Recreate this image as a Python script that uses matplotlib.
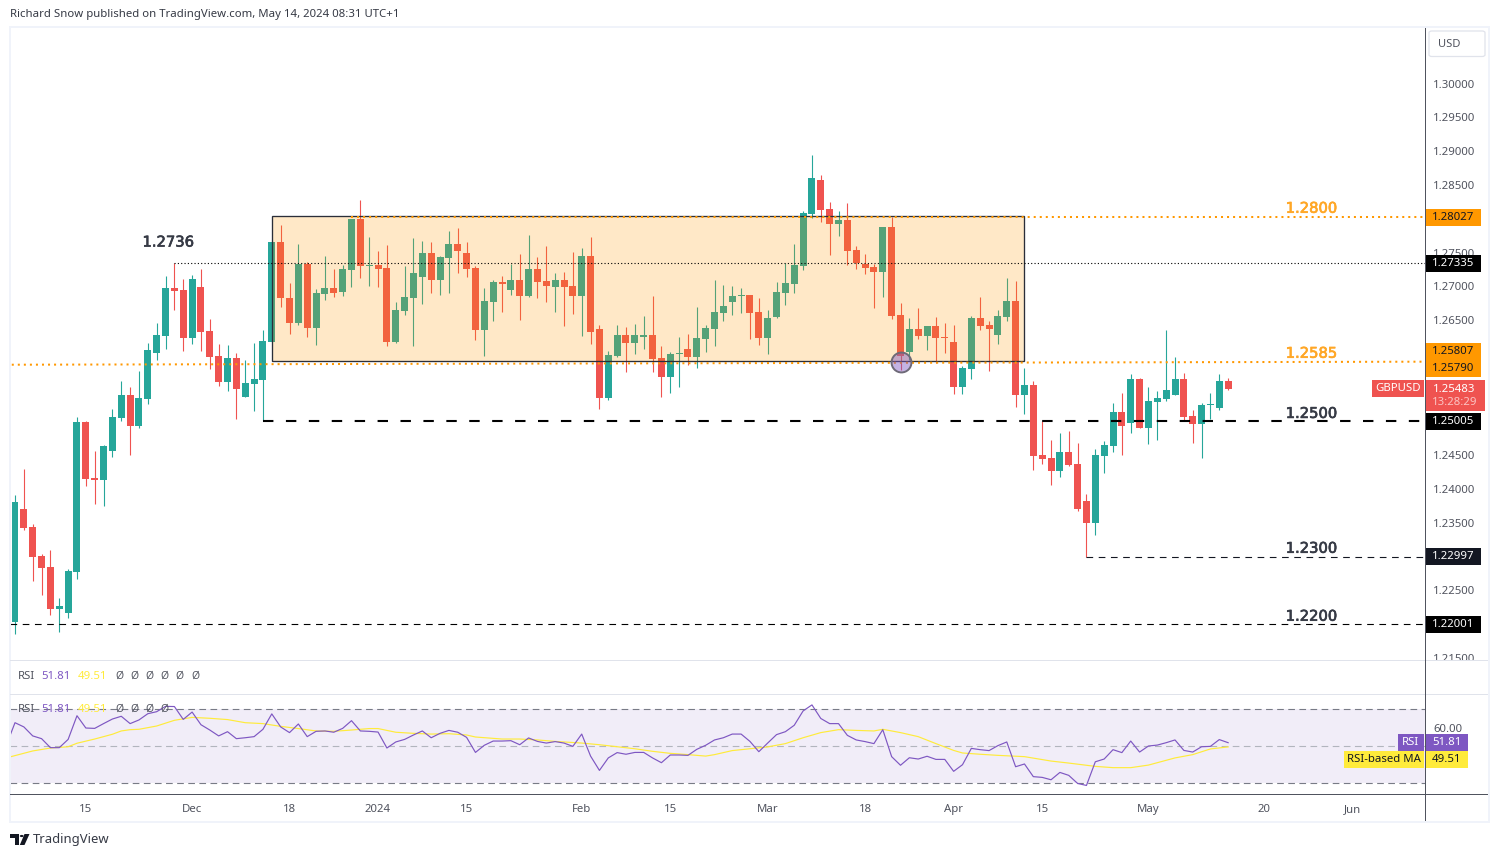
"""GBPUSD daily candles with RSI pane, TradingView style."""
import numpy as np
import matplotlib
matplotlib.use('Agg')
import matplotlib.pyplot as plt
import matplotlib.patheffects as pe
from matplotlib.patches import Rectangle, FancyBboxPatch, Polygon, Circle

plt.rcParams['font.family'] = ['Noto Sans', 'DejaVu Sans']

W, H = 1499, 857

# --- price data ---
opens = [
    1.22041, 1.23707, 1.23441, 1.23012, 1.22849, 1.22233, 1.22174, 1.2278, 1.24994, 1.24165,
    1.24141, 1.2457, 1.25058, 1.25393, 1.24939, 1.25339, 1.26019, 1.26271, 1.26976, 1.26946,
    1.26241, 1.2699, 1.2634, 1.2597, 1.2559, 1.2594, 1.25368, 1.25561, 1.2562, 1.26182,
    1.27656, 1.26828, 1.26458, 1.27331, 1.26389, 1.26892, 1.26976, 1.26921, 1.27247, 1.27996,
    1.27301, 1.27316, 1.27271, 1.26182, 1.2664, 1.26833, 1.27143, 1.27493, 1.27099, 1.27424,
    1.27626, 1.27493, 1.27271, 1.26359, 1.26773, 1.27064, 1.26951, 1.27094, 1.26862, 1.27257,
    1.27079, 1.26995, 1.27094, 1.27005, 1.26862, 1.27449, 1.26369, 1.25354, 1.25975, 1.2628,
    1.26167, 1.26256, 1.2628, 1.2594, 1.25664, 1.26004, 1.26073, 1.2596, 1.26226, 1.26374,
    1.26611, 1.26773, 1.26862, 1.26872, 1.26621, 1.26241, 1.26552, 1.26907, 1.2704, 1.27306,
    1.28075, 1.28573, 1.28144, 1.27927, 1.27981, 1.27538, 1.27331, 1.27286, 1.27217, 1.27878,
    1.26576, 1.26034, 1.26369, 1.26271, 1.26414, 1.26251, 1.26177, 1.25516, 1.25778, 1.26532,
    1.26428, 1.26285, 1.26552, 1.26783, 1.25398, 1.25541, 1.24506, 1.24461, 1.24274, 1.2455,
    1.24373, 1.23825, 1.23505, 1.24496, 1.24644, 1.25142, 1.24984, 1.2563, 1.2491, 1.25294,
    1.25339, 1.25398, 1.2563, 1.25082, 1.24969, 1.2525, 1.25206, 1.256,
]
highs = [
    1.23914, 1.24299, 1.23485, 1.23041, 1.23101, 1.22391, 1.2282, 1.25063, 1.25009, 1.24565,
    1.24654, 1.25186, 1.256, 1.25511, 1.25748, 1.26162, 1.26458, 1.27153, 1.2734, 1.27109,
    1.27168, 1.27257, 1.26517, 1.26147, 1.26133, 1.26014, 1.25911, 1.26162, 1.26354, 1.27656,
    1.27907, 1.2705, 1.27626, 1.2736, 1.26961, 1.27449, 1.27257, 1.27316, 1.27996, 1.28277,
    1.2773, 1.27523, 1.27612, 1.26769, 1.27301, 1.27715, 1.27671, 1.27656, 1.27449, 1.27819,
    1.27863, 1.27656, 1.27301, 1.26976, 1.27094, 1.27153, 1.27331, 1.27478, 1.27759, 1.27434,
    1.27597, 1.27197, 1.27212, 1.27508, 1.27567, 1.2773, 1.26428, 1.26044, 1.26428, 1.26399,
    1.26443, 1.26561, 1.26857, 1.26118, 1.26029, 1.26251, 1.26295, 1.26695, 1.26428, 1.27094,
    1.2702, 1.27005, 1.26976, 1.26872, 1.26828, 1.2665, 1.27064, 1.27345, 1.27626, 1.28114,
    1.28943, 1.28647, 1.28248, 1.28114, 1.28233, 1.27597, 1.27478, 1.27331, 1.27878, 1.28026,
    1.26754, 1.26532, 1.2668, 1.26414, 1.26547, 1.26458, 1.26428, 1.25822, 1.26561, 1.26842,
    1.26488, 1.2665, 1.27123, 1.27079, 1.25792, 1.256, 1.25009, 1.24727, 1.24831, 1.24861,
    1.24683, 1.23929, 1.24594, 1.24713, 1.25275, 1.25423, 1.25704, 1.25645, 1.25511, 1.25452,
    1.26354, 1.25955, 1.25718, 1.25171, 1.25275, 1.25423, 1.25704, 1.25645,
]
lows = [
    1.21863, 1.23401, 1.22647, 1.2244, 1.22144, 1.21893, 1.221, 1.22677, 1.24052, 1.23786,
    1.23756, 1.24481, 1.25013, 1.24511, 1.2491, 1.25265, 1.25916, 1.26078, 1.26655, 1.26049,
    1.26152, 1.26049, 1.25783, 1.25531, 1.25457, 1.25043, 1.25368, 1.25161, 1.25013, 1.26182,
    1.26699, 1.263, 1.26428, 1.26256, 1.26137, 1.26803, 1.26847, 1.26862, 1.26995, 1.27128,
    1.2701, 1.26995, 1.26123, 1.26167, 1.26581, 1.26123, 1.26744, 1.26907, 1.26877, 1.26907,
    1.27202, 1.27143, 1.26211, 1.25975, 1.26492, 1.26625, 1.26877, 1.26507, 1.26847, 1.26833,
    1.26773, 1.26625, 1.26418, 1.26596, 1.26271, 1.26152, 1.25191, 1.25324, 1.2596, 1.25738,
    1.26004, 1.26078, 1.25738, 1.25368, 1.25428, 1.25516, 1.25842, 1.25797, 1.26034, 1.26123,
    1.26492, 1.26581, 1.26611, 1.26226, 1.26137, 1.26004, 1.26537, 1.26729, 1.26907, 1.27247,
    1.28016, 1.27957, 1.27469, 1.2775, 1.27321, 1.27262, 1.27188, 1.26685, 1.26847, 1.26522,
    1.25763, 1.25911, 1.26226, 1.26064, 1.25871, 1.26019, 1.25413, 1.25413, 1.25635, 1.26359,
    1.25753, 1.26152, 1.26492, 1.2522, 1.25117, 1.24289, 1.24377, 1.24067, 1.24185, 1.24348,
    1.23682, 1.22997, 1.23327, 1.24244, 1.24555, 1.24511, 1.24836, 1.2491, 1.24673, 1.24732,
    1.25309, 1.25398, 1.25028, 1.24688, 1.24466, 1.25043, 1.25176, 1.25467,
]
closes = [
    1.23811, 1.23431, 1.23002, 1.22839, 1.22233, 1.22272, 1.2279, 1.24994, 1.24156, 1.24141,
    1.24639, 1.25068, 1.25393, 1.24939, 1.25349, 1.26059, 1.2628, 1.26976, 1.26931, 1.26241,
    1.27109, 1.2633, 1.2596, 1.2559, 1.2594, 1.25487, 1.25571, 1.2563, 1.26192, 1.27656,
    1.26833, 1.26463, 1.27331, 1.26389, 1.26902, 1.26976, 1.26907, 1.27257, 1.27996, 1.27306,
    1.27311, 1.27262, 1.26182, 1.2665, 1.26842, 1.27197, 1.27493, 1.27099, 1.27434, 1.27626,
    1.27528, 1.27262, 1.26359, 1.26783, 1.27064, 1.27035, 1.27094, 1.26862, 1.27257, 1.27069,
    1.2701, 1.27094, 1.26995, 1.26862, 1.27449, 1.2633, 1.25354, 1.25985, 1.2628, 1.26167,
    1.2628, 1.2628, 1.2593, 1.25664, 1.25999, 1.26014, 1.2596, 1.26236, 1.26384, 1.26621,
    1.26709, 1.26857, 1.26872, 1.26611, 1.26241, 1.26532, 1.26916, 1.2705, 1.27316, 1.28085,
    1.28602, 1.28134, 1.27927, 1.27986, 1.27528, 1.2735, 1.27276, 1.27217, 1.27878, 1.26566,
    1.2597, 1.26369, 1.26271, 1.26414, 1.26241, 1.26241, 1.25516, 1.25792, 1.26532, 1.26418,
    1.26369, 1.26561, 1.26783, 1.25398, 1.25541, 1.24496, 1.24451, 1.24274, 1.2455, 1.24363,
    1.23712, 1.23505, 1.24506, 1.24654, 1.25142, 1.24939, 1.2563, 1.2491, 1.25304, 1.25349,
    1.25467, 1.2563, 1.25073, 1.24969, 1.25245, 1.2526, 1.256, 1.25483,
]

# RSI, first value belongs to the bar just left of the window
rsi_values = [
    50.2, 62.7, 60.4, 55.5, 54.0, 49.1, 49.1, 53.6, 66.5, 59.8, 59.6,
    62.2, 64.7, 66.2, 62.2, 64.2, 67.6, 68.7, 71.6, 71.5, 64.5,
    68.5, 61.6, 58.7, 55.5, 57.8, 54.0, 54.5, 55.1, 59.1, 67.5,
    60.4, 57.3, 62.0, 55.1, 58.0, 58.2, 57.5, 59.6, 63.8, 58.2,
    58.0, 57.6, 48.9, 52.2, 53.6, 56.0, 58.2, 54.5, 56.9, 58.5,
    57.5, 54.7, 46.5, 50.4, 52.7, 52.7, 52.9, 50.7, 54.4, 52.5,
    51.6, 52.4, 51.6, 49.8, 56.5, 44.5, 36.7, 43.5, 46.4, 45.5,
    46.5, 46.5, 43.5, 40.9, 45.1, 45.1, 44.9, 48.2, 50.4, 53.3,
    54.5, 56.5, 56.5, 52.5, 46.9, 51.6, 56.2, 57.8, 61.3, 69.1,
    72.4, 65.0, 62.2, 62.2, 55.8, 53.3, 52.4, 51.3, 58.9, 44.2,
    39.5, 43.6, 42.9, 44.4, 42.7, 42.7, 36.2, 39.8, 48.7, 48.0,
    47.5, 50.2, 52.2, 38.7, 40.2, 33.3, 32.9, 31.6, 35.6, 34.0,
    29.6, 28.5, 41.4, 42.9, 48.0, 46.4, 52.7, 46.7, 50.0, 50.5,
    51.8, 53.3, 47.6, 46.7, 49.6, 49.8, 53.5, 51.8,
]
ma_index = [-1, 2, 4, 6, 7, 9, 11, 12, 13, 14, 16, 18, 20, 22, 24, 26, 28, 30, 32, 34, 36, 38, 40, 41,
            43, 45, 47, 49, 51, 52, 55, 57, 59, 61, 64, 66, 68, 70, 72, 74, 76, 78, 79, 81, 83, 85,
            87, 89, 91, 93, 95, 97, 98, 100, 102, 104, 106, 107, 109, 111, 114, 117, 119, 122, 124,
            126, 128, 131, 133, 135, 137]
ma_values = [43.5, 47.3, 48.9, 49.6, 51.5, 53.8, 56.4, 58.2, 58.9, 59.1, 60.9, 64.0, 65.6, 65.1, 64.4,
             62.7, 62.2, 60.7, 59.5, 58.2, 58.0, 58.7, 59.5, 59.5, 57.5, 56.9, 56.5, 56.7, 56.0, 54.9,
             53.8, 53.8, 53.3, 52.5, 51.6, 50.7, 49.6, 48.5, 47.1, 46.0, 45.3, 44.5, 45.3, 47.5, 48.5,
             49.5, 51.3, 54.5, 57.3, 58.9, 58.5, 58.2, 59.1, 57.3, 55.1, 51.3, 47.6, 46.2, 45.5, 44.9,
             44.2, 41.8, 40.7, 38.9, 38.2, 38.2, 39.6, 43.5, 45.3, 48.4, 49.5]

price_ticks = [1.215, 1.22, 1.225, 1.23, 1.235, 1.24, 1.245, 1.25, 1.255, 1.26, 1.265, 1.27, 1.275,
               1.28, 1.285, 1.29, 1.295, 1.30]
hidden_price_ticks = [1.22, 1.23, 1.25, 1.255, 1.26, 1.28]  # sit behind the tags in the original
date_ticks = [8, 20, 31, 41, 51, 64, 74, 85, 96, 106, 116, 128, 141, 151]
date_labels = ['15', 'Dec', '18', '2024', '15', 'Feb', '15', 'Mar', '18', 'Apr', '15', 'May', '20', 'Jun']

TEAL = '#26a69a'
RED = '#ef5350'
ORANGE = '#ff9800'
PURPLE = '#7e57c2'
YELLOW = '#ffeb3b'
TXT = '#50535e'
PANE = '#e0e3eb'

# pixel layout
PX0, PX1 = 10, 1425.5
BAR0, BAR_STEP = 15.0, 8.855


def fx(x):
    return x / W


def fy(y):
    return 1 - y / H


def pane(fig, x0, y0, x1, y1, **kw):
    return fig.add_axes([fx(x0), fy(y1), (x1 - x0) / W, (y1 - y0) / H], **kw)


def box(fig, x0, y0, x1, y1, color, z=6):
    fig.add_artist(Rectangle((fx(x0), fy(y1)), (x1 - x0) / W, (y1 - y0) / H, transform=fig.transFigure,
                             facecolor=color, edgecolor='none', zorder=z))


def tag(fig, y0, y1, label, color, txt='white', x1=1481):
    box(fig, 1425.5, y0, x1, y1, color)
    fig.text(fx(1453.5), fy((y0 + y1) / 2), label, color=txt, fontsize=8.2, ha='center', va='center',
             fontweight='bold' if txt == 'white' else 'normal', zorder=7)


fig = plt.figure(figsize=(W / 100, H / 100), dpi=100, facecolor='white')

# === Price pane ===
ax = pane(fig, PX0, 27, PX1, 660, facecolor='white')
ax.set_xlim((PX0 - BAR0) / BAR_STEP, (PX1 - BAR0) / BAR_STEP)
ax.set_ylim(1.30 - (660 - 83.5) / 6760, 1.30 + (83.5 - 27) / 6760)

idx = np.arange(len(opens))
o, h, l, c = map(np.array, (opens, highs, lows, closes))
colors = [TEAL if cc >= oo else RED for oo, cc in zip(o, c)]
ax.vlines(idx, l, h, colors=colors, lw=0.8, zorder=2)
ax.bar(idx, np.maximum(np.abs(c - o), 0.00015), bottom=np.minimum(o, c), width=0.79, color=colors, zorder=2)

# range box over the candles
left, right = ax.get_xlim()
ax.add_patch(Rectangle((29, 1.25891), 85, 1.28036 - 1.25891, facecolor=ORANGE, alpha=0.22,
                       edgecolor='none', zorder=3))
ax.add_patch(Rectangle((29, 1.25891), 85, 1.28036 - 1.25891, facecolor='none', edgecolor='#2a2e39',
                       lw=0.95, zorder=3.5))

# levels
ax.plot([38, right], [1.28027, 1.28027], color=ORANGE, lw=1.45, ls=(0, (1, 2)), zorder=4)
ax.plot([left + 0.2, right], [1.2584, 1.25885], color=ORANGE, lw=1.45, ls=(0, (1, 2)), zorder=4)
ax.plot([18, right], [1.2734, 1.2734], color='black', lw=0.8, ls=(0, (1, 2)), zorder=4)
ax.plot([28, right - 0.3], [1.2501, 1.2501], color='black', lw=1.5, ls=(0, (5, 6)), zorder=4)
ax.plot([121, right], [1.22997, 1.22997], color='#131722', lw=0.8, ls=(0, (6, 5)), zorder=4)
ax.plot([left, right], [1.22001, 1.22001], color='black', lw=0.8, ls=(0, (6, 5)), zorder=4)

ax.scatter([100], [1.25886], s=205, facecolor=(0.49, 0.34, 0.76, 0.45), edgecolor='#6e6a78', lw=1.4, zorder=5)

for lbl, xi, yi, col in [('1.2736', 14.4, 1.27655, '#363a45'), ('1.2800', 143.5, 1.28155, '#ffa726'),
                         ('1.2585', 143.5, 1.26010, '#ffa726'), ('1.2500', 143.5, 1.25120, '#363a45'),
                         ('1.2300', 143.5, 1.23125, '#363a45'), ('1.2200', 143.5, 1.22120, '#363a45')]:
    ax.text(xi, yi, lbl, color=col, fontsize=10.6, family='DejaVu Sans', ha='left', va='center', zorder=5,
            path_effects=[pe.withStroke(linewidth=0.5, foreground=col)])

ax.set_xticks([])
ax.yaxis.tick_right()
ax.set_yticks(price_ticks)
ax.set_yticklabels(['' if t in hidden_price_ticks else f'{t:.5f}' for t in price_ticks])
ax.tick_params(axis='y', length=0, pad=5.5, labelsize=8.2, labelcolor=TXT)
for s in ax.spines.values():
    s.set_visible(False)

# === Empty legend strip ===
strip = pane(fig, PX0, 660, 1489, 694.5, facecolor='white', zorder=0.5)
strip.set_xticks([])
strip.set_yticks([])
for s in strip.spines.values():
    s.set_visible(False)

# === RSI pane ===
ar = pane(fig, PX0, 694.5, PX1, 795, facecolor='white', zorder=0.6)
ar.set_xlim(ax.get_xlim())
ar.set_ylim(50 - (795 - 746) / 1.835, 50 + (746 - 694.5) / 1.835)
ar.axhspan(30, 70, facecolor=PURPLE, alpha=0.1, edgecolor='none', zorder=1)
ar.axhline(70, color='#787b86', lw=0.8, ls=(0, (6, 4)), zorder=2)
ar.axhline(50, color='#b2b5be', lw=0.8, ls=(0, (6, 4)), zorder=2)
ar.axhline(30, color='#787b86', lw=0.8, ls=(0, (6, 4)), zorder=2)
ar.plot(np.arange(-1, len(rsi_values) - 1), rsi_values, color=PURPLE, lw=0.85, zorder=4)
ar.plot(ma_index, ma_values, color=YELLOW, lw=0.85, zorder=3)
ar.yaxis.tick_right()
ar.set_yticks([60])
ar.set_yticklabels(['60.00'])
ar.tick_params(axis='y', length=0, pad=5.5, labelsize=8.2, labelcolor=TXT)
ar.set_xticks(date_ticks)
ar.set_xticklabels(date_labels)
ar.tick_params(axis='x', length=0, pad=6.7, labelsize=8.2, labelcolor=TXT)
ar.get_xticklabels()[3].set_fontweight('bold')
for s in ar.spines.values():
    s.set_visible(False)

# === Frame and separators ===
box(fig, 9, 26, 11, 822, '#f0f3fa', z=1)
box(fig, 9, 26, 1490, 28, '#f0f3fa', z=1)
box(fig, 1488, 26, 1490, 822, '#f0f3fa', z=1)
box(fig, 9, 820.5, 1490, 822.5, '#f0f3fa', z=1)
box(fig, 10, 660, 1488, 661, PANE, z=2)
box(fig, 10, 694, 1488, 695, PANE, z=2)
box(fig, 10, 794, 1488, 795.3, '#50535e', z=2)
box(fig, 1425, 28, 1426.2, 821, '#50535e', z=2)

# === Right-hand tags ===
tag(fig, 209, 225.7, '1.28027', ORANGE, '#131722')
tag(fig, 255, 271.7, '1.27335', 'black')
tag(fig, 343.3, 360, '1.25807', ORANGE, '#131722')
tag(fig, 360, 376.7, '1.25790', ORANGE, '#131722')
tag(fig, 413.3, 430, '1.25005', 'black')
tag(fig, 548, 564.7, '1.22997', '#131722')
tag(fig, 616, 632.7, '1.22001', 'black')

box(fig, 1372, 380, 1424, 396.7, RED)
fig.text(fx(1398), fy(388.5), 'GBPUSD', color='white', fontsize=8.2, ha='center', va='center', zorder=7)
box(fig, 1425.5, 380, 1485, 410.7, RED)
fig.text(fx(1454), fy(389), '1.25483', color='white', fontsize=8.2, fontweight='bold', ha='center',
         va='center', zorder=7)
fig.text(fx(1455), fy(402.5), '13:28:29', color='#fbc4c3', fontsize=8.2, ha='center', va='center', zorder=7)

box(fig, 1397.5, 734, 1424, 751, PURPLE)
fig.text(fx(1410.5), fy(742.5), 'RSI', color='white', fontsize=8.2, ha='center', va='center', zorder=7)
box(fig, 1425.5, 734, 1468, 751, PURPLE)
fig.text(fx(1447), fy(742.5), '51.81', color='white', fontsize=8.2, fontweight='bold', ha='center',
         va='center', zorder=7)
box(fig, 1344, 751, 1424, 768, YELLOW)
fig.text(fx(1384), fy(759.5), 'RSI-based MA', color='#131722', fontsize=8.2, ha='center', va='center', zorder=7)
box(fig, 1425.5, 751, 1468, 768, YELLOW)
fig.text(fx(1447), fy(759.5), '49.51', color='#131722', fontsize=8.2, ha='center', va='center', zorder=7)

# USD button
fig.add_artist(FancyBboxPatch((fx(1429), fy(56.5)), 56 / W, 25.5 / H, boxstyle='round,pad=0,rounding_size=0.002',
                              transform=fig.transFigure, facecolor='white', edgecolor=PANE, lw=0.9, zorder=5))
fig.text(fx(1438), fy(44.5), 'USD', color=TXT, fontsize=8, ha='left', va='center', zorder=7)

# === Indicator legends ===
for yy, n_args in [(676.5, 6), (709.5, 4)]:
    fig.text(fx(18), fy(yy), 'RSI', color=TXT, fontsize=8.2, va='center', zorder=7)
    fig.text(fx(41), fy(yy), '51.81', color=PURPLE, fontsize=8.2, va='center', zorder=7)
    fig.text(fx(78), fy(yy), '49.51', color=YELLOW, fontsize=8.2, va='center', zorder=7)
    for k in range(n_args):
        fig.text(fx(119 + k * 15.2), fy(yy), '\u00d8', color=TXT, fontsize=7.5, ha='center', va='center', zorder=7)

# === Header and footer ===
fig.text(fx(10), fy(14.5), 'Richard Snow published on TradingView.com, May 14, 2024 08:31 UTC+1',
         color='#363a45', fontsize=8.2, va='center')
LOGO = '#131722'
fig.add_artist(Polygon([(fx(10), fy(834)), (fx(19), fy(834)), (fx(19), fy(845)), (fx(15), fy(845)),
                        (fx(15), fy(838)), (fx(10), fy(838))], transform=fig.transFigure, facecolor=LOGO,
                       edgecolor='none'))
fig.add_artist(Circle((fx(21.7), fy(836)), 1.9 / W, transform=fig.transFigure, facecolor=LOGO, edgecolor='none'))
fig.add_artist(Polygon([(fx(24.5), fy(834)), (fx(29.5), fy(834)), (fx(24.5), fy(845)), (fx(19.8), fy(845))],
                       transform=fig.transFigure, facecolor=LOGO, edgecolor='none'))
fig.text(fx(33), fy(839.5), 'TradingView', color='#363a45', fontsize=9.4, va='center')

fig.savefig('out.png', dpi=100, facecolor='white')
